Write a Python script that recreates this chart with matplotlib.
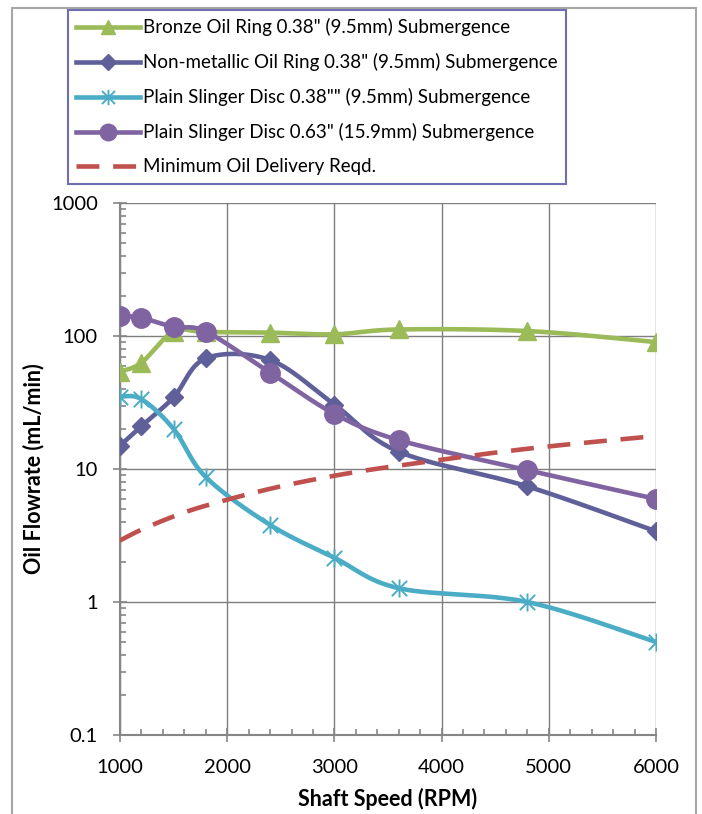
import numpy as np
import matplotlib.pyplot as plt
from matplotlib.ticker import FixedLocator, LogLocator, NullFormatter
from matplotlib.patches import Rectangle
from matplotlib.path import Path

plt.rcParams['font.family'] = ['Lato', 'DejaVu Sans']

rpm = [1000, 1200, 1500, 1800, 2400, 3000, 3600, 4800, 6000]
bronze_ring = [54, 63, 108, 107, 106, 103, 112, 109, 90]
nonmetal_ring = [15, 21, 34.6, 68, 66, 30.5, 13.5, 7.4, 3.4]
slinger_038 = [35, 33.5, 20, 8.7, 3.8, 2.15, 1.27, 1.0, 0.5]
slinger_063 = [142, 137, 117, 108, 53, 26, 16.5, 9.8, 5.95]
min_delivery = [2.9, 3.5, 4.4, 5.3, 7.1, 8.9, 10.6, 14.2, 17.7]

labels = ['Bronze Oil Ring 0.38" (9.5mm) Submergence',
          'Non-metallic Oil Ring 0.38" (9.5mm) Submergence',
          'Plain Slinger Disc 0.38"" (9.5mm) Submergence',
          'Plain Slinger Disc 0.63" (15.9mm) Submergence',
          'Minimum Oil Delivery Reqd.']

colors = ['#9bbb59', '#5f5f99', '#4bacc6', '#8064a2', '#c0504d']

# excel style asterisk: vertical bar + X
star = Path([(0, -1), (0, 1), (-0.85, -0.85), (0.85, 0.85),
             (-0.85, 0.85), (0.85, -0.85)],
            [Path.MOVETO, Path.LINETO] * 3)


def smooth(xs, ys, n=30):
    # Excel-style smoothed line, done in axis space (x linear, y log)
    px = np.array(xs, float) / 5000.0
    py = np.log10(np.array(ys, float)) / 4.0 * (532 / 536)
    pts = np.column_stack([px, py])
    out = []
    for i in range(len(pts) - 1):
        p0 = pts[max(i - 1, 0)]
        p1 = pts[i]
        p2 = pts[i + 1]
        p3 = pts[min(i + 2, len(pts) - 1)]
        c1 = p1 + (p2 - p0) / 6.0
        c2 = p2 - (p3 - p1) / 6.0
        t = np.linspace(0, 1, n)[:, None]
        seg = ((1 - t) ** 3 * p1 + 3 * (1 - t) ** 2 * t * c1
               + 3 * (1 - t) * t ** 2 * c2 + t ** 3 * p2)
        out.append(seg if i == 0 else seg[1:])
    out = np.vstack(out)
    return out[:, 0] * 5000.0, 10 ** (out[:, 1] * 4.0 / (532 / 536))


fig = plt.figure(figsize=(7.02, 8.14), dpi=100)
ax = fig.add_axes([120 / 702, 1 - 735 / 814, 536 / 702, 532 / 814])

series = [bronze_ring, nonmetal_ring, slinger_038, slinger_063]
markers = ['^', 'D', star, 'o']
msizes = [12.5, 9.5, 13, 14]
handles = []
for ys, c, m, ms, lab in zip(series, colors, markers, msizes, labels):
    sx, sy = smooth(rpm, ys)
    ax.plot(sx, sy, color=c, lw=3.3, zorder=3)
    mew = 1.4 if m is star else 1
    ax.plot(rpm, ys, ls='none', marker=m, ms=ms, color=c, mec=c, mew=mew,
            zorder=4)
    h, = ax.plot([], [], color=c, lw=3.3, marker=m, ms=ms * 0.85, mec=c,
                 mew=mew)
    handles.append(h)

sx, sy = smooth(rpm, min_delivery)
ax.plot(sx, sy, color=colors[4], lw=3.3, dashes=(5, 3), zorder=3)
h, = ax.plot([], [], color=colors[4], lw=3.3, dashes=(5, 3))
handles.append(h)

ax.set_yscale('log')
ax.set_xlim(1000, 6000)
ax.set_ylim(0.1, 1000)
ax.set_yticks([0.1, 1, 10, 100, 1000])
ax.set_yticklabels(['0.1', '1', '10', '100', '1000'])
ax.yaxis.set_minor_locator(LogLocator(base=10, subs=np.arange(2, 10)))
ax.yaxis.set_minor_formatter(NullFormatter())
ax.set_xticks(range(1000, 6001, 1000))
ax.xaxis.set_minor_locator(FixedLocator(range(1000, 6001, 200)))

ax.grid(True, which='major', color='#7f7f7f', lw=1)
ax.set_axisbelow(True)
for s in ['top', 'right']:
    ax.spines[s].set_visible(False)
for s in ['left', 'bottom']:
    ax.spines[s].set_color('#868686')
    ax.spines[s].set_linewidth(1.5)
ax.tick_params(which='major', direction='inout', length=10, width=1.2,
               color='#868686', labelsize=14.5)
ax.tick_params(which='minor', direction='in', length=4.5, width=1.2,
               color='#868686')
ax.tick_params(axis='y', pad=11)
ax.tick_params(axis='x', pad=12)

ax.set_xlabel('Shaft Speed (RPM)', fontsize=15.5, fontweight='bold',
              labelpad=9)
ax.set_ylabel('Oil Flowrate (mL/min)', fontsize=15.5, fontweight='bold',
              labelpad=5)

leg = fig.legend(handles, labels, loc='upper left',
                 bbox_to_anchor=(68 / 702, 1 - 10 / 814), borderaxespad=0,
                 fontsize=13.5, handlelength=3.4, handletextpad=0.15,
                 labelspacing=0.9, borderpad=0.45, fancybox=False,
                 framealpha=1)
leg.get_frame().set_edgecolor('#6f6fb0')
leg.get_frame().set_linewidth(1.5)

fig.patches.append(Rectangle((12 / 702, -0.1), 684 / 702, 1.1 - 8 / 814,
                             transform=fig.transFigure, fill=False,
                             ec='#a6a6a6', lw=1.5, zorder=-1))

fig.savefig('out.png', dpi=100)
